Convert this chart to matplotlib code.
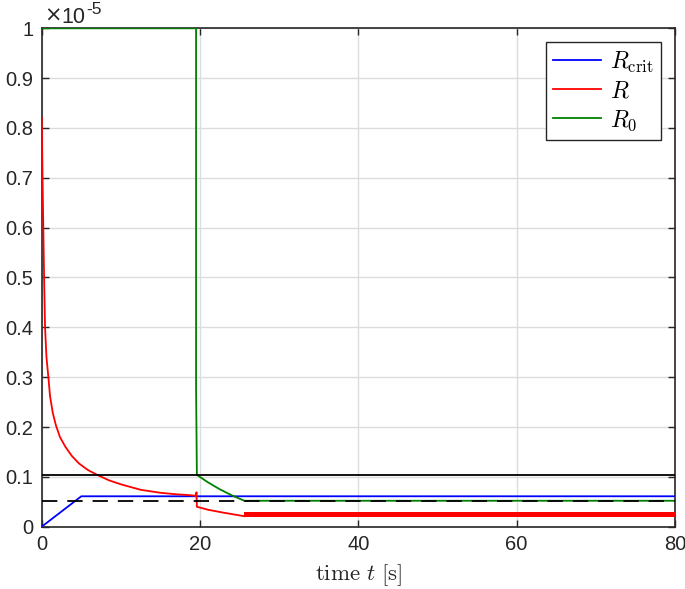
import matplotlib
matplotlib.use("Agg")
import matplotlib.pyplot as plt
import numpy as np

plt.rcParams['mathtext.fontset'] = 'cm'
plt.rcParams['font.family'] = ['Liberation Sans', 'DejaVu Sans']

# values in units of 1e-5
t_crit = [0, 5.0, 80]
R_crit = [0, 0.061, 0.061]

t_R = [0.0, 0.02, 0.05, 0.1, 0.2, 0.3, 0.42, 0.6, 0.84, 1.05, 1.4, 1.8, 2.3, 3.0, 3.8, 4.7,
       5.8, 7.0, 8.5, 10.0, 12.5, 15.0, 17.0, 18.4, 19.5, 19.55, 19.6, 21.0, 23.0, 25.6]
R_vals = [0.82, 0.80, 0.76, 0.70, 0.60, 0.50, 0.40, 0.34, 0.30, 0.262, 0.228, 0.203, 0.180, 0.160, 0.142, 0.127,
          0.114, 0.104, 0.093, 0.085, 0.074, 0.068, 0.065, 0.0636, 0.062, 0.069, 0.040, 0.034, 0.028, 0.021]
t_band = [25.6, 80]
R_band_low = [0.019, 0.019]
R_band_high = [0.030, 0.030]

t_R0 = [0, 19.5, 19.5, 19.6, 21.0, 22.5, 24.0, 25.6, 80]
R0_vals = [1.0, 1.0, 0.28, 0.104, 0.089, 0.075, 0.063, 0.052, 0.052]

t_ref = [0, 80]
R_ref_solid = [0.104, 0.104]
R_ref_dashed = [0.052, 0.052]

xticks = [0, 20, 40, 60, 80]
yticks = [0, 0.1, 0.2, 0.3, 0.4, 0.5, 0.6, 0.7, 0.8, 0.9, 1]
yticklabels = ['0', '0.1', '0.2', '0.3', '0.4', '0.5', '0.6', '0.7', '0.8', '0.9', '1']

fig = plt.figure(figsize=(6.85, 5.89), dpi=100)
ax = fig.add_axes([0.0609, 0.1058, 0.9245, 0.8462])

ax.plot(t_crit, R_crit, color='#0000ff', lw=1.3, label=r'$R_{\rm crit}$', zorder=3)
ax.plot(t_R, R_vals, color='#ff0000', lw=1.3, label=r'$R$', zorder=3)
ax.fill_between(t_band, R_band_low, R_band_high, color='#ff0000', lw=0, zorder=3)
ax.plot(t_R0, R0_vals, color='#008000', lw=1.3, label=r'$R_0$', zorder=3)
ax.plot(t_ref, R_ref_solid, color='black', lw=1.3, zorder=4)
ax.plot(t_ref, R_ref_dashed, color='black', lw=1.3, ls=(0, (8.5, 5.5)), zorder=4)

ax.set_xlim(0, 80)
ax.set_ylim(0, 1)
ax.set_xticks(xticks)
ax.set_yticks(yticks)
ax.set_yticklabels(yticklabels)
ax.grid(True, color='#dcdcdc', lw=1.0)
ax.set_axisbelow(True)
for s in ax.spines.values():
    s.set_color('#262626')
    s.set_linewidth(1.2)
ax.tick_params(direction='in', top=True, right=True, length=5, width=1.0,
               colors='#262626', labelsize=14.5, pad=6)

ax.set_xlabel(r'$\mathrm{time}\ t\ [\mathrm{s}]$', fontsize=16.5, labelpad=6, color='#262626')
fig.text(44 / 685, 1 - 22 / 589, '\u00d7', fontsize=15, color='#262626',
         ha='left', va='baseline', family='DejaVu Sans')
fig.text(61 / 685, 1 - 23 / 589, '10', fontsize=15.5, color='#262626',
         ha='left', va='baseline')
fig.text(86 / 685, 1 - 14 / 589, '-5', fontsize=12.5, color='#262626',
         ha='left', va='baseline')

leg = ax.legend(loc='upper right', fontsize=17, frameon=True, fancybox=False,
                framealpha=1, edgecolor='#262626', handlelength=2.0,
                borderaxespad=0.6, labelspacing=0.25, handletextpad=0.4, borderpad=0.3)
leg.get_frame().set_linewidth(1.0)

fig.savefig('out.png', dpi=100)
